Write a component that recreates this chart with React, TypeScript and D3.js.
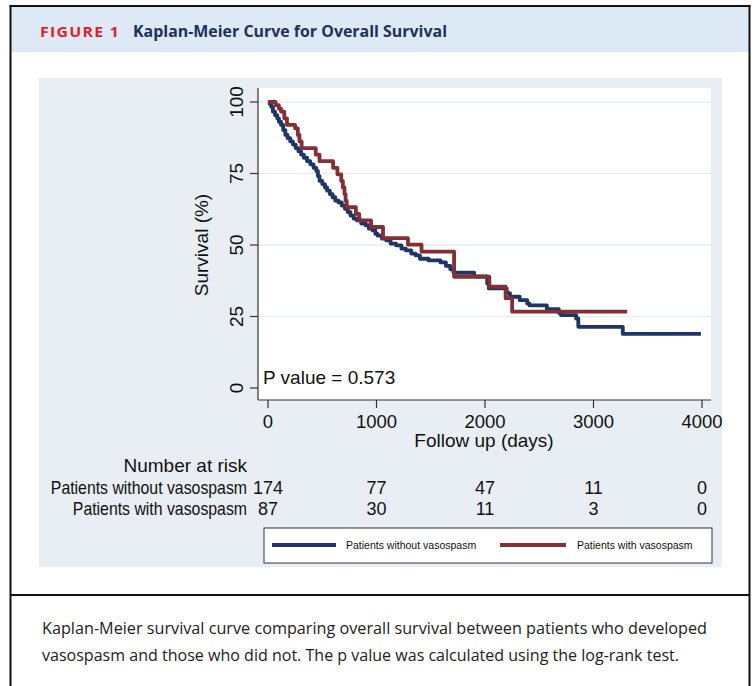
import React from "react";
import * as d3 from "d3";

// Kaplan-Meier steps: [day, survival %]
const withoutSteps: [number, number][] = [
  [0, 100], [15, 99.4], [30, 98.3], [45, 96.6], [65, 95.4], [85, 94.3], [100, 93.1],
  [120, 92.0], [140, 90.2], [160, 88.5], [180, 87.4], [205, 86.2], [230, 85.1],
  [255, 83.9], [280, 82.8], [305, 81.6], [330, 80.5], [360, 79.3], [390, 78.2],
  [420, 77.0], [445, 75.9], [460, 74.1], [475, 72.4], [500, 71.3], [525, 70.1],
  [545, 69.0], [570, 67.8], [595, 66.7], [620, 65.5], [650, 64.9], [680, 63.8],
  [710, 62.6], [735, 61.5], [760, 60.3], [790, 59.2], [820, 58.6], [860, 57.5],
  [900, 56.9], [930, 55.7], [965, 55.1], [990, 53.9], [1010, 53.3], [1050, 52.2],
  [1090, 51.6], [1130, 50.5], [1180, 49.9], [1230, 48.7], [1270, 48.1], [1320, 47.0],
  [1360, 46.4], [1400, 45.2], [1480, 44.6], [1590, 43.9], [1640, 42.7], [1680, 41.5],
  [1710, 40.3], [1900, 39.0], [2020, 36.5], [2035, 34.8], [2200, 33.2], [2230, 31.9],
  [2320, 30.7], [2390, 29.5], [2410, 28.9], [2570, 27.6], [2680, 26.3], [2700, 25.5],
  [2840, 24.3], [2860, 21.4], [3270, 18.9], [3990, 18.9],
];

const withSteps: [number, number][] = [
  [0, 100], [70, 98.9], [100, 97.7], [120, 96.6], [150, 94.3], [175, 92.0], [250, 90.8],
  [275, 88.5], [290, 86.2], [310, 83.9], [440, 81.6], [475, 79.3], [600, 77.0],
  [640, 74.7], [675, 72.4], [690, 70.1], [705, 67.8], [715, 65.5], [725, 63.2],
  [810, 60.9], [840, 58.6], [950, 56.3], [1060, 52.4], [1290, 50.1], [1415, 47.7],
  [1715, 38.9], [2040, 35.4], [2190, 31.4], [2250, 26.7], [3310, 26.7],
];

const xTicks = [0, 1000, 2000, 3000, 4000];
const yTicks = [0, 25, 50, 75, 100];
const riskGroups = ["Patients without vasospasm", "Patients with vasospasm"];
const riskWithout = [174, 77, 47, 11, 0];
const riskWith = [87, 30, 11, 3, 0];

const NAVY = "#1f3563";
const MAROON = "#822f35";
const font = "'Liberation Sans', Arial, sans-serif";
const narrow = "'Liberation Sans Narrow', 'Open Sans', sans-serif";

export default function App() {
  const x = d3.scaleLinear().domain([0, 4000]).range([268, 702]);
  const y = d3.scaleLinear().domain([0, 100]).range([388, 102]);
  const line = d3
    .line<[number, number]>()
    .x((d) => x(d[0]))
    .y((d) => y(d[1]))
    .curve(d3.curveStepAfter);

  const plot = { left: 258, right: 711, top: 88, bottom: 400 };
  const rows = [riskWithout, riskWith];

  return (
    <svg
      width={756}
      height={686}
      style={{ position: "absolute", left: 0, top: 0, background: "#fff" }}
    >
      {/* frame */}
      <rect x={10.5} y={6} width={739} height={46} fill="#dde9f5" />
      <line x1={10.5} x2={10.5} y1={5} y2={686} stroke="#111" strokeWidth={2} />
      <line x1={749.5} x2={749.5} y1={5} y2={686} stroke="#111" strokeWidth={2} />
      <line x1={9.5} x2={750.5} y1={6} y2={6} stroke="#111" strokeWidth={2} />
      <line x1={10.5} x2={749.5} y1={595} y2={595} stroke="#111" strokeWidth={2} />

      <text x={40} y={37} fill="#e2202e" fontFamily={narrow} fontWeight="bold"
        fontSize={15} letterSpacing={1.2} textLength={80} lengthAdjust="spacingAndGlyphs">
        FIGURE 1
      </text>
      <text x={133} y={37} fill="#1c315c" fontFamily={narrow} fontWeight="bold"
        fontSize={16.5} textLength={314} lengthAdjust="spacingAndGlyphs">
        Kaplan-Meier Curve for Overall Survival
      </text>

      {/* graph region */}
      <rect x={39} y={78} width={683} height={489} fill="#e8eef3" />
      <rect x={plot.left} y={plot.top} width={plot.right - plot.left}
        height={plot.bottom - plot.top} fill="#fff" />

      {yTicks.filter((t) => t > 0).map((t) => (
        <line key={t} x1={plot.left} x2={plot.right} y1={y(t)} y2={y(t)}
          stroke="#e6edf2" strokeWidth={1.5} />
      ))}

      {/* axes */}
      <line x1={plot.left} x2={plot.left} y1={plot.top} y2={plot.bottom} stroke="#333" strokeWidth={1.2} />
      <line x1={plot.left} x2={plot.right} y1={plot.bottom} y2={plot.bottom} stroke="#333" strokeWidth={1.2} />
      {yTicks.map((t) => (
        <g key={t}>
          <line x1={plot.left - 8} x2={plot.left} y1={y(t)} y2={y(t)} stroke="#333" strokeWidth={1.2} />
          <text transform={`translate(243,${y(t)}) rotate(-90)`} textAnchor="middle"
            fontFamily={font} fontSize={19} fill="#111">
            {t}
          </text>
        </g>
      ))}
      {xTicks.map((t) => (
        <g key={t}>
          <line x1={x(t)} x2={x(t)} y1={plot.bottom} y2={plot.bottom + 8} stroke="#333" strokeWidth={1.2} />
          <text x={x(t)} y={428} textAnchor="middle" fontFamily={font} fontSize={18.5} fill="#111">
            {t}
          </text>
        </g>
      ))}
      <text transform="translate(208,245) rotate(-90)" textAnchor="middle"
        fontFamily={font} fontSize={19} fill="#111">
        Survival (%)
      </text>
      <text x={484} y={447} textAnchor="middle"
        fontFamily={font} fontSize={19} fill="#111">
        Follow up (days)
      </text>

      {/* curves */}
      <path d={line(withoutSteps) ?? ""} fill="none" stroke={NAVY} strokeWidth={3.8} strokeLinejoin="round" />
      <path d={line(withSteps) ?? ""} fill="none" stroke={MAROON} strokeWidth={3.8} strokeLinejoin="round" />

      <text x={263} y={384} fontFamily={font} fontSize={19} fill="#111">
        P value = 0.573
      </text>

      {/* number at risk */}
      <text x={247} y={472} textAnchor="end" fontFamily={font} fontSize={19} fill="#111">
        Number at risk
      </text>
      {rows.map((vals, i) => (
        <g key={i}>
          <text transform={`translate(247,${494 + i * 21}) scale(0.88,1)`} textAnchor="end"
            fontFamily={font} fontSize={18} fill="#111">
            {riskGroups[i]}
          </text>
          {vals.map((v, j) => (
            <text key={j} x={x(xTicks[j])} y={494 + i * 21} textAnchor="middle"
              fontFamily={font} fontSize={18} fill="#111">
              {v}
            </text>
          ))}
        </g>
      ))}

      {/* legend */}
      <rect x={264} y={528} width={448} height={35} fill="#fff" stroke="#333" strokeWidth={1} />
      <line x1={272} x2={336} y1={545} y2={545} stroke={NAVY} strokeWidth={4} />
      <text x={346} y={549} fontFamily={font} fontSize={10.5} fill="#111">
        {riskGroups[0]}
      </text>
      <line x1={500} x2={566} y1={545} y2={545} stroke={MAROON} strokeWidth={4} />
      <text x={577} y={549} fontFamily={font} fontSize={10.5} fill="#111">
        {riskGroups[1]}
      </text>

      {/* caption */}
      <text x={42} y={634} fontFamily={narrow} fontSize={15.5} fill="#222"
        textLength={665} lengthAdjust="spacingAndGlyphs">
        Kaplan-Meier survival curve comparing overall survival between patients who developed
      </text>
      <text x={42} y={661} fontFamily={narrow} fontSize={15.5} fill="#222"
        textLength={637} lengthAdjust="spacingAndGlyphs">
        vasospasm and those who did not. The p value was calculated using the log-rank test.
      </text>
    </svg>
  );
}
